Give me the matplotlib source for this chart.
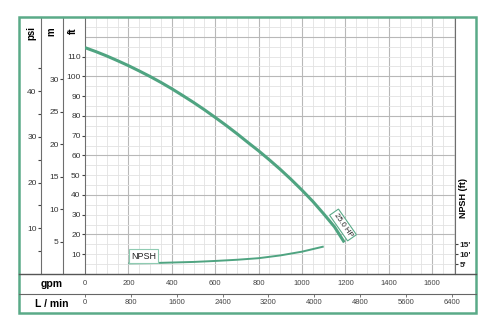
import numpy as np
import matplotlib
matplotlib.use("Agg")
import matplotlib.pyplot as plt
from matplotlib.patches import Rectangle
from matplotlib.lines import Line2D

plt.rcParams['font.family'] = ['Liberation Sans', 'DejaVu Sans']

# --- data ---
head_gpm = [0, 50, 100, 150, 200, 250, 300, 350, 400, 450, 500, 550, 600, 650,
            700, 750, 800, 850, 900, 950, 1000, 1050, 1100, 1150, 1195]
head_ft = [114.5, 112.5, 110.3, 107.9, 105.4, 102.7, 99.9, 96.9, 93.7, 90.3,
           86.8, 83.1, 79.2, 75.2, 71.0, 66.6, 62.3, 57.7, 52.9, 47.8, 42.4,
           36.7, 30.4, 23.8, 16.0]
npsh_gpm = [200, 300, 400, 500, 600, 700, 800, 900, 1000, 1100]
npsh_ft = [5.4, 5.5, 5.8, 6.1, 6.6, 7.2, 8.0, 9.4, 11.3, 13.9]
gpm_ticks = [0, 200, 400, 600, 800, 1000, 1200, 1400, 1600]
lmin_ticks = [0, 800, 1600, 2400, 3200, 4000, 4800, 5600, 6400]
ft_ticks = [10, 20, 30, 40, 50, 60, 70, 80, 90, 100, 110]
m_ticks = [5, 10, 15, 20, 25, 30]
psi_major = [10, 20, 30, 40]
psi_minor = [5, 15, 25, 35, 45]
npsh_ticks = [5, 10, 15]
npsh_labels = ["5'", "10'", "15'"]
curve_label = "25.0 HP"

FT_PER_PSI = 2.31
FT_PER_M = 3.281
LPM_PER_GPM = 3.785

W, H = 497, 332
green = "#5aaa88"
curve = "#4fa481"
sep = "#6e6e6e"

fig = plt.figure(figsize=(W / 100, H / 100), dpi=100)

top, bot = 17, 274
ax = fig.add_axes([85 / W, 1 - bot / H, 370 / W, (bot - top) / H])
ax_m = fig.add_axes([63 / W, 1 - bot / H, 22 / W, (bot - top) / H])
ax_psi = fig.add_axes([41 / W, 1 - bot / H, 22 / W, (bot - top) / H])

ax.set_xlim(0, 1705)
ax.set_ylim(0, 130)

# grid
for g in np.arange(50, 1705, 50):
    major = g % 200 == 0
    ax.axvline(g, color="#b8b8b8" if major else "#e2e2e2",
               lw=0.8 if major else 0.6, zorder=0)
for f in np.arange(5, 130, 5):
    major = f % 20 == 0
    ax.axhline(f, color="#b8b8b8" if major else "#e2e2e2",
               lw=0.8 if major else 0.6, zorder=0)

# curves
ax.plot(head_gpm, head_ft, color=curve, lw=2.2, solid_capstyle="butt", zorder=3)
ax.plot(npsh_gpm, npsh_ft, color=curve, lw=1.4, solid_capstyle="butt", zorder=3)

ax.text(1189, 24.8, curve_label, rotation=-55, ha="center", va="center",
        fontsize=5.5, color="#222", zorder=4,
        bbox=dict(boxstyle="square,pad=0.25", fc="white", ec=green, lw=0.8))
ax.text(212, 9.0, "NPSH", ha="left", va="center", fontsize=6.5, color="#222",
        zorder=4, bbox=dict(boxstyle="square,pad=0.25", fc="white", ec="#8fcbb2", lw=0.8))

# main axis styling
for s in ["top", "bottom", "right"]:
    ax.spines[s].set_visible(False)
ax.spines["left"].set_color(sep)
ax.set_yticks(ft_ticks)
ax.tick_params(axis="y", direction="out", length=2.2, width=0.8, color="#444",
               labelsize=6, labelcolor="#333", pad=1)
ax.set_xticks(gpm_ticks)
ax.tick_params(axis="x", length=0, labelsize=5.5, labelcolor="#444", pad=4.5)

# L/min scale
sec = ax.secondary_xaxis(-20 / (bot - top),
                         functions=(lambda g: g * LPM_PER_GPM, lambda l: l / LPM_PER_GPM))
sec.set_xticks(lmin_ticks)
sec.spines["bottom"].set_visible(False)
sec.tick_params(direction="out", length=2.2, width=0.7, color="#777",
                labelsize=5.5, labelcolor="#444", pad=1.5)

# NPSH scale on right
npsh_ax = ax.secondary_yaxis("right")
npsh_ax.set_yticks(npsh_ticks)
npsh_ax.set_yticklabels(npsh_labels, fontweight="bold")
npsh_ax.spines["right"].set_color(sep)
npsh_ax.tick_params(direction="out", length=2.2, width=0.8, color="#444",
                    labelsize=6, labelcolor="#222", pad=1)

# m column
ax_m.set_ylim(0, 130 / FT_PER_M)
ax_m.set_xticks([])
for s in ["top", "bottom", "right"]:
    ax_m.spines[s].set_visible(False)
ax_m.spines["left"].set_color(sep)
ax_m.set_yticks(m_ticks)
ax_m.tick_params(axis="y", direction="out", length=2.2, width=0.8, color="#444",
                 labelsize=6, labelcolor="#333", pad=1)
ax_m.patch.set_alpha(0)

# psi column
ax_psi.set_ylim(0, 130 / FT_PER_PSI)
ax_psi.set_xticks([])
for s in ["top", "bottom", "right"]:
    ax_psi.spines[s].set_visible(False)
ax_psi.spines["left"].set_color(sep)
ax_psi.set_yticks(psi_major)
ax_psi.set_yticks(psi_minor, minor=True)
ax_psi.tick_params(axis="y", which="major", direction="out", length=2.2, width=0.8,
                   color="#444", labelsize=6, labelcolor="#333", pad=1)
ax_psi.tick_params(axis="y", which="minor", direction="out", length=2.2, width=0.8,
                   color="#444")
ax_psi.patch.set_alpha(0)

# headers and row labels
fig.text(31 / W, 1 - 33 / H, "psi", rotation=90, ha="center", va="center",
         fontsize=7, fontweight="bold")
fig.text(51 / W, 1 - 32 / H, "m", rotation=90, ha="center", va="center",
         fontsize=7, fontweight="bold")
fig.text(73 / W, 1 - 31 / H, "ft", rotation=90, ha="center", va="center",
         fontsize=7, fontweight="bold")
fig.text(464 / W, 1 - 198 / H, "NPSH (ft)", rotation=90, ha="center", va="center",
         fontsize=6.5, fontweight="bold")
fig.text(52 / W, 1 - 284 / H, "gpm", ha="center", va="center",
         fontsize=7.5, fontweight="bold")
fig.text(52 / W, 1 - 304 / H, "L / min", ha="center", va="center",
         fontsize=7.5, fontweight="bold")

# row separators and outer frame
fig.add_artist(Line2D([19 / W, 476 / W], [1 - 274 / H] * 2, color="#555", lw=1.0))
fig.add_artist(Line2D([19 / W, 476 / W], [1 - 294 / H] * 2, color="#666", lw=0.8))
fig.add_artist(Rectangle((19 / W, 1 - 313 / H), 457 / W, 296 / H, fill=False,
                         ec=green, lw=1.8, transform=fig.transFigure))

fig.savefig("out.png", dpi=100)
